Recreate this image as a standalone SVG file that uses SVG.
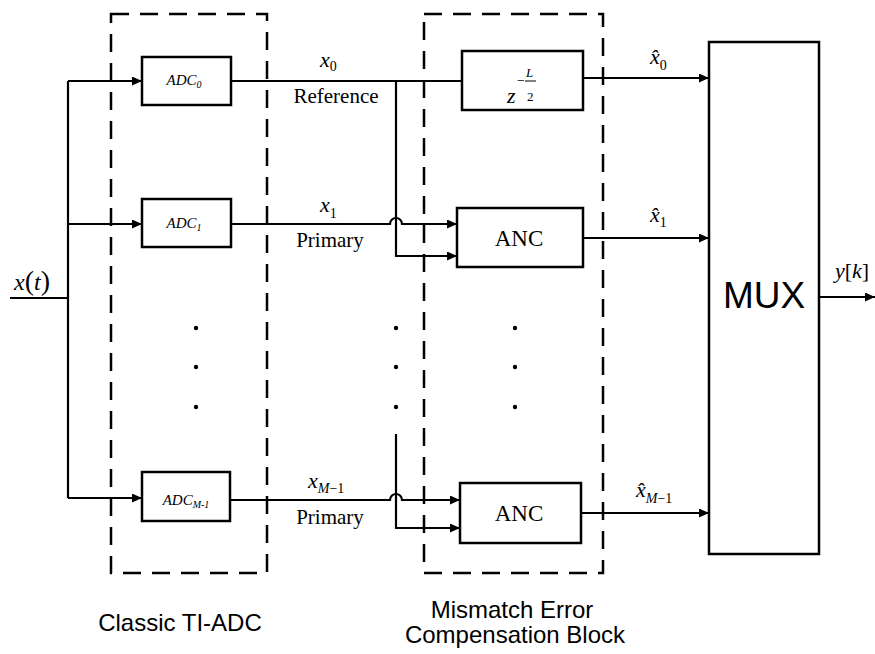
<svg xmlns="http://www.w3.org/2000/svg" width="875" height="654" viewBox="0 0 875 654">
<style>
.box{fill:#fff;stroke:#000;stroke-width:2.5}
.dash{fill:none;stroke:#000;stroke-width:2.5;stroke-dasharray:18 11}
.ln{fill:none;stroke:#000;stroke-width:2.2}
.m{font-family:"Liberation Serif",serif;font-style:italic;fill:#000}
.r{font-family:"Liberation Serif",serif;fill:#000}
.s{font-family:"Liberation Sans",Arial,sans-serif;fill:#000}
.dot{fill:#000}
</style>
<defs>
<marker id="ar" markerUnits="userSpaceOnUse" markerWidth="11" markerHeight="10" refX="10" refY="4.5" orient="auto">
<path d="M0,0 L10,4.5 L0,9 z" fill="#000"/>
</marker>
</defs>
<rect fill="#fff" width="875" height="654"/>

<g id="tiadc-block">
<rect class="dash" x="111" y="14" width="156" height="559"/>
<text class="s" x="180" y="631" font-size="24" text-anchor="middle">Classic TI-ADC</text>
</g>
<g id="comp-block">
<rect class="dash" x="424" y="14" width="179" height="559"/>
<text class="s" x="512" y="618" font-size="24" text-anchor="middle">Mismatch Error</text>
<text class="s" x="515" y="643" font-size="24" text-anchor="middle">Compensation Block</text>
</g>

<g id="connectors">
<path class="ln" d="M10,298 H68"/>
<path class="ln" d="M68,81 V498"/>
<path class="ln" d="M68,81 H142" marker-end="url(#ar)"/>
<path class="ln" d="M68,224 H142" marker-end="url(#ar)"/>
<path class="ln" d="M68,498 H142" marker-end="url(#ar)"/>
<path class="ln" d="M231,81 H462"/>
<path class="ln" d="M396,81 V256 H457" marker-end="url(#ar)"/>
<path class="ln" d="M231,224 H390 A6,6 0 0 1 402,224 H457" marker-end="url(#ar)"/>
<path class="ln" d="M583,78 H709" marker-end="url(#ar)"/>
<path class="ln" d="M583,238 H709" marker-end="url(#ar)"/>
<path class="ln" d="M230,500 H390 A6,6 0 0 1 402,500 H460" marker-end="url(#ar)"/>
<path class="ln" d="M396,434 V528 H460" marker-end="url(#ar)"/>
<path class="ln" d="M581,513 H709" marker-end="url(#ar)"/>
<path class="ln" d="M819,297 H875" marker-end="url(#ar)"/>
</g>

<g id="labels">
<text class="m" x="14" y="290" font-size="24">x<tspan class="r" font-style="normal" font-size="28">(</tspan>t<tspan font-style="normal" font-size="28">)</tspan></text>
<text class="m" x="320" y="67" font-size="22">x<tspan font-style="normal" font-size="14" dy="3.5">0</tspan></text>
<text class="r" x="336" y="103" font-size="21" text-anchor="middle">Reference</text>
<text class="m" x="320" y="212" font-size="22">x<tspan font-style="normal" font-size="14" dy="6">1</tspan></text>
<text class="r" x="330" y="247" font-size="21" text-anchor="middle">Primary</text>
<text class="m" x="308" y="488" font-size="22">x<tspan font-size="14" dy="5">M</tspan><tspan font-style="normal" font-size="14">−1</tspan></text>
<text class="r" x="330" y="524" font-size="21" text-anchor="middle">Primary</text>
<text class="m" x="650" y="64" font-size="22">x̂<tspan font-style="normal" font-size="14" dy="6">0</tspan></text>
<text class="m" x="650" y="222" font-size="22">x̂<tspan font-style="normal" font-size="14" dy="5">1</tspan></text>
<text class="m" x="636" y="497" font-size="22">x̂<tspan font-size="14" dy="6">M</tspan><tspan font-style="normal" font-size="14">−1</tspan></text>
<text class="m" x="835" y="278" font-size="22">y<tspan font-style="normal">[</tspan>k<tspan font-style="normal">]</tspan></text>
</g>

<g id="adc0">
<rect class="box" x="142" y="57" width="89" height="48"/>
<text class="m" x="184" y="85" font-size="15" text-anchor="middle">ADC<tspan font-size="10" dy="3">0</tspan></text>
</g>
<g id="adc1">
<rect class="box" x="142" y="199" width="89" height="48"/>
<text class="m" x="184" y="228" font-size="15" text-anchor="middle">ADC<tspan font-size="10" dy="3">1</tspan></text>
</g>
<g id="adcm1">
<rect class="box" x="142" y="472" width="88" height="49"/>
<text class="m" x="186" y="505" font-size="15" text-anchor="middle">ADC<tspan font-size="10" dy="3">M-1</tspan></text>
</g>
<g id="delay">
<rect class="box" x="462" y="51" width="121" height="59"/>
<text class="m" x="507" y="103" font-size="22">z</text>
<text class="r" x="517" y="85" font-size="14">−</text>
<text class="m" x="526" y="77" font-size="13">L</text>
<line x1="525" y1="81" x2="536" y2="81" stroke="#000" stroke-width="1"/>
<text class="r" x="527" y="101" font-size="13">2</text>
</g>
<g id="anc1">
<rect class="box" x="457" y="208" width="126" height="59"/>
<text class="r" x="519" y="246" font-size="23" text-anchor="middle">ANC</text>
</g>
<g id="ancm1">
<rect class="box" x="460" y="483" width="121" height="60"/>
<text class="r" x="519" y="521" font-size="23" text-anchor="middle">ANC</text>
</g>
<g id="mux">
<rect class="box" x="709" y="42" width="110" height="512"/>
<text class="s" x="764" y="308" font-size="37" text-anchor="middle">MUX</text>
</g>
<g id="dots">
<circle class="dot" cx="196" cy="328" r="2.2"/>
<circle class="dot" cx="196" cy="367" r="2.2"/>
<circle class="dot" cx="196" cy="407" r="2.2"/>
<circle class="dot" cx="396" cy="328" r="2.2"/>
<circle class="dot" cx="396" cy="367" r="2.2"/>
<circle class="dot" cx="396" cy="407" r="2.2"/>
<circle class="dot" cx="515" cy="328" r="2.2"/>
<circle class="dot" cx="515" cy="367" r="2.2"/>
<circle class="dot" cx="515" cy="407" r="2.2"/>
</g>
</svg>
